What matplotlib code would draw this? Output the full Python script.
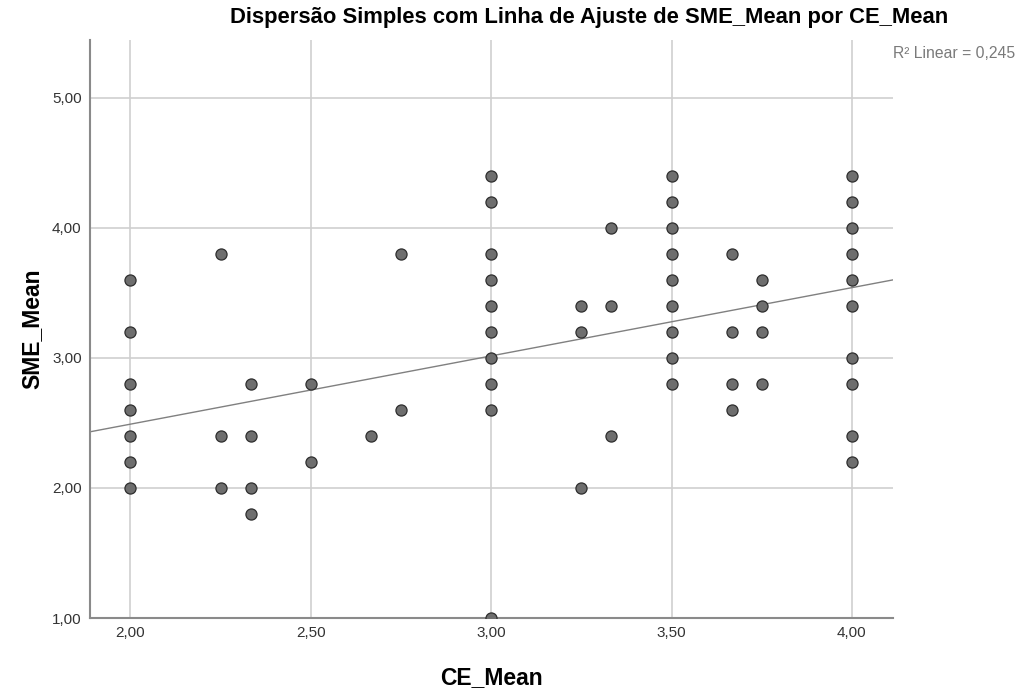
import matplotlib
matplotlib.use("Agg")
import matplotlib.pyplot as plt
import numpy as np

plt.rcParams['font.family'] = ['Liberation Sans', 'DejaVu Sans']

# ---- data ----
ce_mean = [2.00]*7 + [2.25]*3 + [2.3333]*4 + [2.50]*2 + [2.6667] + [2.75]*2 \
    + [3.00]*10 + [3.25]*3 + [3.3333]*3 + [3.50]*9 + [3.6667]*4 + [3.75]*4 + [4.00]*10
sme_mean = [3.6, 3.2, 2.8, 2.6, 2.4, 2.2, 2.0,
            3.8, 2.4, 2.0,
            2.8, 2.4, 2.0, 1.8,
            2.8, 2.2,
            2.4,
            3.8, 2.6,
            4.4, 4.2, 3.8, 3.6, 3.4, 3.2, 3.0, 2.8, 2.6, 1.0,
            3.4, 3.2, 2.0,
            4.0, 3.4, 2.4,
            4.4, 4.2, 4.0, 3.8, 3.6, 3.4, 3.2, 3.0, 2.8,
            3.8, 3.2, 2.8, 2.6,
            3.6, 3.4, 3.2, 2.8,
            4.4, 4.2, 4.0, 3.8, 3.6, 3.4, 3.0, 2.8, 2.4, 2.2]
fit_intercept = 1.441
fit_slope = 0.525
r2_text = "R² Linear = 0,245"
x_ticks = [2.0, 2.5, 3.0, 3.5, 4.0]
y_ticks = [1.0, 2.0, 3.0, 4.0, 5.0]

fig = plt.figure(figsize=(10.23, 6.93), dpi=100)
ax = fig.add_axes([90/1023, 1-618/693, 803/1023, 578/693])

xlim = (1.888, 4.114)
ylim = (1.0, 5.446)
ax.set_xlim(*xlim)
ax.set_ylim(*ylim)

ax.set_xticks(x_ticks)
ax.set_yticks(y_ticks)
ax.set_xticklabels([f"{v:.2f}".replace('.', ',') for v in x_ticks])
ax.set_yticklabels([f"{v:.2f}".replace('.', ',') for v in y_ticks])
ax.tick_params(length=0, labelsize=11, colors='#333333')
ax.tick_params(axis='y', pad=6)
ax.tick_params(axis='x', pad=6)

ax.grid(True, color='#cfcfcf', linewidth=1.2, zorder=0)
ax.set_axisbelow(True)
for s in ['top', 'right']:
    ax.spines[s].set_visible(False)
for s in ['left', 'bottom']:
    ax.spines[s].set_color('#8a8a8a')
    ax.spines[s].set_linewidth(1.5)

xs = np.array(xlim)
ax.plot(xs, fit_intercept + fit_slope*xs, color='#808080', linewidth=1.0, zorder=2)

ax.scatter(ce_mean, sme_mean, s=64, facecolor='#6e6e6e', edgecolor='#2e2e2e',
           linewidth=0.9, zorder=3, clip_on=True)

ax.set_xlabel("CE_Mean", fontsize=16.5, fontweight='bold', va='center')
ax.set_ylabel("SME_Mean", fontsize=16.5, fontweight='bold', va='center')
ax.xaxis.set_label_coords((491-90)/803, (618-678)/578)
ax.yaxis.set_label_coords((32-90)/803, (618-329)/578)

fig.text(589/1023, 1-18/693, "Dispersão Simples com Linha de Ajuste de SME_Mean por CE_Mean",
         ha='center', va='center', fontsize=15.8, fontweight='bold')
fig.text(1015/1023, 1-54/693, r2_text, ha='right', va='center', fontsize=11.3, color='#7a7a7a')

fig.savefig("out.png", dpi=100)
